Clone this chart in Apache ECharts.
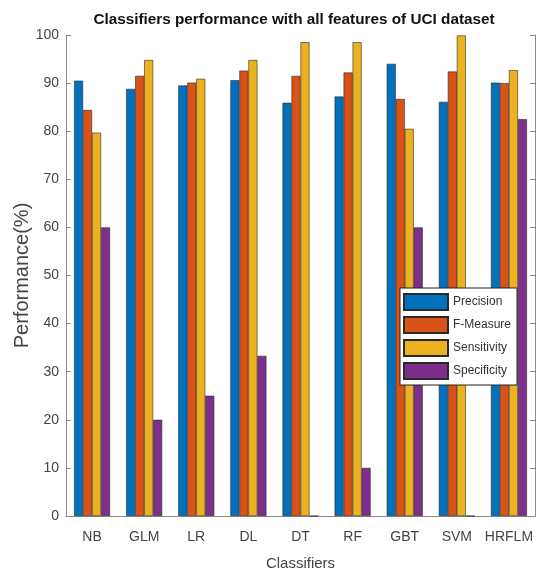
<!DOCTYPE html>
<html><head><meta charset="utf-8">
<script src="https://cdn.jsdelivr.net/npm/echarts@6/dist/echarts.min.js"></script>
<style>html,body{margin:0;padding:0;background:#fff}#c{width:539px;height:573px}</style>
</head><body><div id="c"></div>
<script>
const categories = ['NB','GLM','LR','DL','DT','RF','GBT','SVM','HRFLM'];
const precision   = [90.5, 88.8, 89.5, 90.6, 85.9, 87.2, 94.0, 86.1, 90.1];
const fMeasure    = [84.4, 91.5, 90.1, 92.6, 91.5, 92.2, 86.7, 92.4, 90.0];
const sensitivity = [79.7, 94.8, 90.9, 94.8, 98.5, 98.5, 80.5, 99.9, 92.7];
const specificity = [60.0, 20.0, 25.0, 33.3, 0, 10.0, 60.0, 0, 82.5];
const yTicks = [0,10,20,30,40,50,60,70,80,90,100];

const names = ['Precision','F-Measure','Sensitivity','Specificity'];
const colors = ['#0072BD','#D95319','#EDB120','#7E2F8E'];
const dataSets = [precision, fMeasure, sensitivity, specificity];
const FONT = 'Liberation Sans, Arial, sans-serif';
const axisGray = '#8a8a8a';

const chart = echarts.init(document.getElementById('c'), null, {renderer:'canvas'});
chart.setOption({
  backgroundColor:'#fff',
  animation:false,
  title:{
    text:'Classifiers performance with all features of UCI dataset',
    left:289, top:7, textAlign:'center',
    textStyle:{fontFamily:FONT, fontSize:15.3, fontWeight:'bold', color:'#111'}
  },
  legend:{
    orient:'vertical', left:400, top:288,
    itemWidth:44, itemHeight:16, itemGap:5, itemTextGap:4,
    icon:'rect',
    backgroundColor:'#fff', borderColor:'#222', borderWidth:1,
    padding:[5,6,5,3],
    textStyle:{fontFamily:FONT, fontSize:12, color:'#333'},
    data:names
  },
  grid:{left:66, top:35, right:4, bottom:57, containLabel:false, outerBoundsMode:'none'},
  xAxis:[{
    type:'category', data:categories, position:'bottom',
    name:'Classifiers', nameLocation:'middle', nameGap:40, nameMoveOverlap:false,
    nameTextStyle:{fontFamily:FONT, fontSize:15, color:'#444'},
    axisLine:{lineStyle:{color:axisGray, width:1}},
    axisTick:{inside:true, alignWithLabel:true, length:4, lineStyle:{color:'#222'}},
    axisLabel:{fontFamily:FONT, fontSize:14, color:'#444', margin:14, interval:0}
  },{
    type:'category', data:categories, position:'top',
    axisLine:{lineStyle:{color:axisGray, width:1}},
    axisTick:{inside:true, alignWithLabel:true, length:4, lineStyle:{color:axisGray}},
    axisLabel:{show:false}
  }],
  yAxis:[{
    type:'value', min:0, max:100, interval:10,
    name:'Performance(%)', nameLocation:'middle', nameGap:34, nameMoveOverlap:false,
    nameTextStyle:{fontFamily:FONT, fontSize:20, color:'#444'},
    axisLine:{show:true, lineStyle:{color:axisGray, width:1}},
    axisTick:{show:true, inside:true, length:5, lineStyle:{color:axisGray}},
    axisLabel:{fontFamily:FONT, fontSize:14, color:'#444', margin:7,
      formatter:v => yTicks.includes(v) ? String(v) : ''},
    splitLine:{show:false}
  },{
    type:'value', min:0, max:100, interval:10, position:'right',
    axisLine:{show:true, lineStyle:{color:axisGray, width:1}},
    axisTick:{show:true, inside:true, length:5, lineStyle:{color:axisGray}},
    axisLabel:{show:false}, splitLine:{show:false}
  }],
  series: names.map((n,i)=>({
    name:n, type:'bar', xAxisIndex:0, yAxisIndex:0,
    data:dataSets[i], barWidth:9, barGap:'0%',
    itemStyle:{color:colors[i], borderColor:'#2a2a2a', borderWidth:0.6}
  }))
});
</script></body></html>
